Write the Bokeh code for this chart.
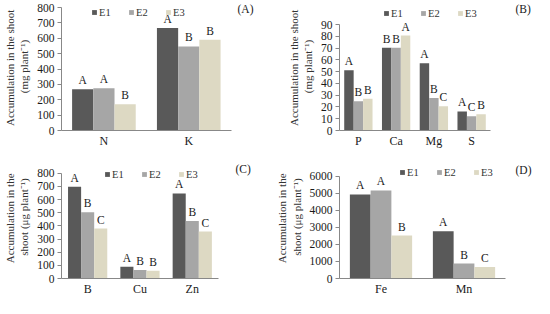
import numpy as np
from bokeh.plotting import figure
from bokeh.models import ColumnDataSource, Range1d, FixedTicker, Legend, LegendItem, Label
from bokeh.core.properties import value
from bokeh.layouts import column, row
from bokeh.embed import file_html
from bokeh.resources import INLINE

SERIES = ["E1", "E2", "E3"]
COLORS = ["#595959", "#a6a6a6", "#ddd9c3"]
FONT = "Liberation Serif"

# Panel A (mg plant-1)
cats_A = ["N", "K"]
E1_A = [269, 667]
E2_A = [275, 547]
E3_A = [171, 590]
let1_A = ["A", "A"]
let2_A = ["A", "B"]
let3_A = ["B", "B"]
ticks_A = [0, 100, 200, 300, 400, 500, 600, 700, 800]

# Panel B (mg plant-1)
cats_B = ["P", "Ca", "Mg", "S"]
E1_B = [51.2, 70.2, 57.2, 16.2]
E2_B = [24.8, 70.2, 27.6, 12.1]
E3_B = [27.0, 80.6, 20.6, 13.9]
let1_B = ["A", "B", "A", "A"]
let2_B = ["B", "B", "B", "C"]
let3_B = ["B", "A", "C", "B"]
ticks_B = [0, 10, 20, 30, 40, 50, 60, 70, 80, 90]

# Panel C (ug plant-1)
cats_C = ["B", "Cu", "Zn"]
E1_C = [698, 90, 647]
E2_C = [505, 64, 437]
E3_C = [380, 59, 357]
let1_C = ["A", "A", "A"]
let2_C = ["B", "B", "B"]
let3_C = ["C", "B", "C"]
ticks_C = [0, 100, 200, 300, 400, 500, 600, 700, 800]

# Panel D (ug plant-1)
cats_D = ["Fe", "Mn"]
E1_D = [4935, 2775]
E2_D = [5170, 875]
E3_D = [2520, 680]
let1_D = ["A", "A"]
let2_D = ["A", "B"]
let3_D = ["B", "C"]
ticks_D = [0, 1000, 2000, 3000, 4000, 5000, 6000]


def panel(cats, e1, e2, e3, l1, l2, l3, ticks, ylabel, tag, w, h, borders,
          top_gap, axis_w, leg_xy, tag_xy):
    left, right, top, bottom = borders
    frame_h = h - top - bottom
    frame_w = w - left - right
    n = len(cats)
    # ranges extended beyond the axes so that axes keep their reference length
    y_end = ticks[-1] * frame_h / (frame_h - top_gap)
    x_end = n * frame_w / axis_w
    centers = np.arange(n) + 0.5
    src = ColumnDataSource(dict(xc=centers, E1=e1, E2=e2, E3=e3, L1=l1, L2=l2, L3=l3))
    p = figure(width=w, height=h, x_range=Range1d(0, x_end),
               y_range=Range1d(0, y_end), output_backend="svg",
               toolbar_location=None, tools="", title_location=None)
    p.min_border_left = left
    p.min_border_right = right
    p.min_border_top = top
    p.min_border_bottom = bottom
    p.outline_line_color = None
    p.xgrid.grid_line_color = None
    p.ygrid.grid_line_color = None
    items = []
    for i, (s, lab, col) in enumerate(zip(SERIES, ["L1", "L2", "L3"], COLORS)):
        off = (i - 1) * 0.25
        xs = centers + off
        r = p.vbar(x=xs, top=src.data[s], width=0.25,
                   fill_color=col, line_color=None)
        p.text(x=xs, y=src.data[s], text=src.data[lab],
               text_font=value(FONT), text_font_size="11.5px", text_color="#1a1a1a",
               text_align="center", text_baseline="bottom", y_offset=-3)
        items.append(LegendItem(label=s, renderers=[r]))
    leg = Legend(items=items, orientation="horizontal", location=leg_xy,
                 padding=0, margin=0, spacing=9, glyph_width=6, glyph_height=6,
                 label_standoff=2, label_height=10, label_text_font=FONT,
                 label_text_font_size="10.5px", label_text_color="#333333",
                 background_fill_alpha=0, border_line_color=None)
    p.add_layout(leg)
    p.add_layout(Label(x=tag_xy[0], y=tag_xy[1], x_units="screen", y_units="screen",
                       text=tag, text_font=FONT, text_font_size="11.5px",
                       text_baseline="middle", text_color="#1a1a1a"))
    ya = p.yaxis[0]
    ya.ticker = FixedTicker(ticks=ticks)
    ya.bounds = (ticks[0], ticks[-1])
    ya.axis_label = ylabel
    ya.axis_label_text_font = FONT
    ya.axis_label_text_font_style = "normal"
    ya.axis_label_text_font_size = "11px"
    ya.axis_label_text_color = "#333333"
    ya.axis_label_standoff = 4
    ya.major_label_text_font = FONT
    ya.major_label_text_font_size = "11.5px"
    ya.major_label_text_color = "#1a1a1a"
    ya.major_label_standoff = 3
    ya.major_tick_out = 4
    ya.major_tick_in = 0
    ya.minor_tick_line_color = None
    ya.axis_line_color = "#888888"
    ya.major_tick_line_color = "#888888"
    xa = p.xaxis[0]
    xa.ticker = FixedTicker(ticks=list(centers))
    xa.major_label_overrides = {float(c): cat for c, cat in zip(centers, cats)}
    xa.bounds = (0, n)
    xa.axis_label = None
    xa.axis_label_standoff = 0
    xa.major_tick_line_color = None
    xa.minor_tick_line_color = None
    xa.major_tick_out = 0
    xa.major_tick_in = 0
    xa.axis_line_color = "#888888"
    xa.major_label_text_font = FONT
    xa.major_label_text_font_size = "12px"
    xa.major_label_text_color = "#1a1a1a"
    xa.major_label_standoff = 3
    return p


lab_mg = "Accumulation  in the shoot\n(mg plant\u207b\u00b9)"
lab_ug = "Accumulation  in the\nshoot (\u03bcg plant\u207b\u00b9)"

pA = panel(cats_A, E1_A, E2_A, E3_A, let1_A, let2_A, let3_A, ticks_A, lab_mg, "(A)",
           267, 150, (57, 2, 2, 20), 5, 173, (30, 112.5), (176, 121.5))
pB = panel(cats_B, E1_B, E2_B, E3_B, let1_B, let2_B, let3_B, ticks_B, lab_mg, "(B)",
           267, 150, (72, 2, 2, 20), 22, 151, (44, 111.5), (176, 121.5))
pC = panel(cats_C, E1_C, E2_C, E3_C, let1_C, let2_C, let3_C, ticks_C, lab_ug, "(C)",
           267, 148, (57, 2, 5, 19), 18, 160, (43, 98.5), (174, 110))
pD = panel(cats_D, E1_D, E2_D, E3_D, let1_D, let2_D, let3_D, ticks_D, lab_ug, "(D)",
           267, 148, (72, 2, 5, 19), 21, 166, (60, 100.5), (176, 109))

layout = column(row(pA, pB, spacing=0), row(pC, pD, spacing=0), spacing=0)

open("out.html", "w").write(file_html(layout, INLINE))
